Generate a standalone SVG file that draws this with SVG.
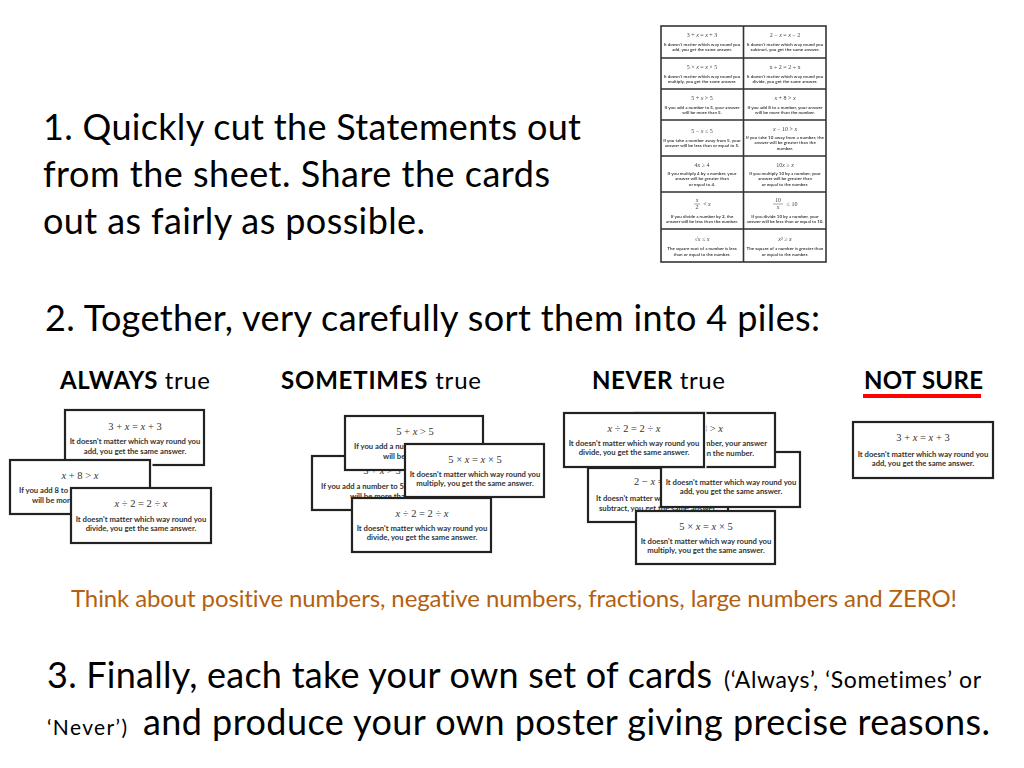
<svg xmlns="http://www.w3.org/2000/svg" width="1024" height="768" viewBox="0 0 1024 768">
<defs><filter id="soft" x="-2%" y="-2%" width="104%" height="104%"><feGaussianBlur stdDeviation="0.25"/></filter></defs>
<style>
text{font-variant-ligatures:none}
.h{font-family:Lato,Carlito,"Open Sans",sans-serif;fill:#000}
.h36{font-size:36px}
.lab{font-size:24px}
.b{font-weight:700}
.i{font-style:italic}
.card{fill:#fff;stroke:#222;stroke-width:2.2}
.eq{font-family:"Liberation Serif",serif;font-size:10.5px;fill:#333;text-anchor:middle}
.t{font-family:Lato,"Open Sans",sans-serif;font-weight:700;font-size:7.7px;fill:#333;text-anchor:middle}
.s{text-anchor:start}
.e{text-anchor:end}
.seq{font-family:"Liberation Serif",serif;font-size:6px;fill:#444;text-anchor:middle}
.st{font-family:Lato,"Open Sans",sans-serif;font-weight:700;font-size:4.5px;fill:#444;text-anchor:middle}
.grid{fill:none;stroke:#333;stroke-width:1.6}
</style>
<rect width="1024" height="768" fill="#fff"/>

<text class="h h36" x="43" y="140" textLength="538">1. Quickly cut the Statements out</text>
<text class="h h36" x="43" y="187" textLength="507">from the sheet. Share the cards</text>
<text class="h h36" x="43" y="234" textLength="382">out as fairly as possible.</text>
<text class="h h36" x="45" y="331" textLength="775">2. Together, very carefully sort them into 4 piles:</text>

<text class="h lab" x="60" y="389" textLength="150"><tspan class="b">ALWAYS</tspan> true</text>
<text class="h lab" x="281" y="389" textLength="200"><tspan class="b">SOMETIMES</tspan> true</text>
<text class="h lab" x="592" y="389" textLength="133"><tspan class="b">NEVER</tspan> true</text>
<text class="h lab b" x="864" y="389" textLength="119">NOT SURE</text>
<rect x="863" y="394" width="118" height="4" fill="#f00"/>

<g id="sheet" filter="url(#soft)">
<rect class="grid" x="661" y="26" width="165" height="236"/>
<path class="grid" d="M743.500 26V262M661 58H826M661 89H826M661 120H826M661 156H826M661 192H826M661 229H826"/>
<text class="seq" x="702" y="37">3 + <tspan class="i">x</tspan> = <tspan class="i">x</tspan> + 3</text>
<text class="st" x="702" y="46">It doesn't matter which way round you</text>
<text class="st" x="702" y="51">add, you get the same answer.</text>
<text class="seq" x="785" y="37">2 − <tspan class="i">x</tspan> = <tspan class="i">x</tspan> − 2</text>
<text class="st" x="785" y="46">It doesn't matter which way round you</text>
<text class="st" x="785" y="51">subtract, you get the same answer.</text>
<text class="seq" x="702" y="69">5 × <tspan class="i">x</tspan> = <tspan class="i">x</tspan> × 5</text>
<text class="st" x="702" y="78">It doesn't matter which way round you</text>
<text class="st" x="702" y="83">multiply, you get the same answer.</text>
<text class="seq" x="785" y="69">x ÷ 2 = 2 ÷ x</text>
<text class="st" x="785" y="78">It doesn't matter which way round you</text>
<text class="st" x="785" y="83">divide, you get the same answer.</text>
<text class="seq" x="702" y="100">5 + <tspan class="i">x</tspan> &gt; 5</text>
<text class="st" x="702" y="109">If you add a number to 5, your answer</text>
<text class="st" x="702" y="114">will be more than 5.</text>
<text class="seq" x="785" y="100"><tspan class="i">x</tspan> + 8 &gt; <tspan class="i">x</tspan></text>
<text class="st" x="785" y="109">If you add 8 to a number, your answer</text>
<text class="st" x="785" y="114">will be more than the number.</text>
<text class="seq" x="702" y="133">5 − <tspan class="i">x</tspan> ≤ 5</text>
<text class="st" x="702" y="142">If you take a number away from 5, your</text>
<text class="st" x="702" y="147">answer will be less than or equal to 5.</text>
<text class="seq" x="785" y="131"><tspan class="i">x</tspan> − 10 &gt; <tspan class="i">x</tspan></text>
<text class="st" x="785" y="139">If you take 10 away from a number, the</text>
<text class="st" x="785" y="144">answer will be greater than the</text>
<text class="st" x="785" y="150">number.</text>
<text class="seq" x="702" y="167">4<tspan class="i">x</tspan> ≥ 4</text>
<text class="st" x="702" y="175">If you multiply 4 by a number, your</text>
<text class="st" x="702" y="180">answer will be greater than</text>
<text class="st" x="702" y="186">or equal to 4.</text>
<text class="seq" x="785" y="167">10<tspan class="i">x</tspan> ≥ <tspan class="i">x</tspan></text>
<text class="st" x="785" y="175">If you multiply 10 by a number, your</text>
<text class="st" x="785" y="180">answer will be greater than</text>
<text class="st" x="785" y="186">or equal to the number.</text>
<text class="seq i" x="697" y="202">x</text>
<text class="seq" x="697" y="209">2</text>
<path d="M694 204H700M773 204H783" stroke="#444" stroke-width=".5"/>
<text class="seq" x="707" y="206">&lt; <tspan class="i">x</tspan></text>
<text class="st" x="702" y="218">If you divide a number by 2, the</text>
<text class="st" x="702" y="223">answer will be less than the number.</text>
<text class="seq" x="778" y="202">10</text>
<text class="seq i" x="778" y="209">x</text>
<text class="seq" x="792" y="206">≤ 10</text>
<text class="st" x="785" y="218">If you divide 10 by a number, your</text>
<text class="st" x="785" y="223">answer will be less than or equal to 10.</text>
<text class="seq" x="702" y="241">√<tspan class="i">x</tspan> ≤ <tspan class="i">x</tspan></text>
<text class="st" x="702" y="250">The square root of a number is less</text>
<text class="st" x="702" y="256">than or equal to the number.</text>
<text class="seq" x="785" y="241"><tspan class="i">x</tspan>² ≥ <tspan class="i">x</tspan></text>
<text class="st" x="785" y="250">The square of a number is greater than</text>
<text class="st" x="785" y="256">or equal to the number.</text>
</g>

<g id="always">
<g transform="translate(65 410)"><rect class="card" width="139" height="55"/><text class="eq" x="70" y="20">3 + <tspan class="i">x</tspan> = <tspan class="i">x</tspan> + 3</text><text class="t" x="70" y="34">It doesn't matter which way round you</text><text class="t" x="70" y="44">add, you get the same answer.</text></g>
<rect x="150" y="460" width="2.500" height="28" fill="#fff"/>
<g transform="translate(10 460)"><rect class="card" width="140" height="54"/><text class="eq" x="70" y="19"><tspan class="i">x</tspan> + 8 &gt; <tspan class="i">x</tspan></text><text class="t s" x="9" y="33">If you add 8 to a</text><text class="t s" x="22" y="43">will be more</text></g>
<g transform="translate(71 488)"><rect class="card" width="140" height="55"/><text class="eq" x="70" y="19"><tspan class="i">x</tspan> ÷ 2 = 2 ÷ <tspan class="i">x</tspan></text><text class="t" x="70" y="34">It doesn't matter which way round you</text><text class="t" x="70" y="43">divide, you get the same answer.</text></g>
</g>

<g id="sometimes">
<g transform="translate(312 456)"><rect class="card" width="140" height="54"/><text class="eq" x="70" y="18">5 + <tspan class="i">x</tspan> &gt; 5</text><text class="t s" x="9" y="33">If you add a number to 5,</text><text class="t s" x="38" y="43">will be more tha</text></g>
<g transform="translate(345 416)"><rect class="card" width="138" height="54"/><text class="eq" x="70" y="19">5 + <tspan class="i">x</tspan> &gt; 5</text><text class="t s" x="9" y="33">If you add a num</text><text class="t s" x="38" y="43">will be</text></g>
<g transform="translate(352 498)"><rect class="card" width="139" height="54"/><text class="eq" x="70" y="19"><tspan class="i">x</tspan> ÷ 2 = 2 ÷ <tspan class="i">x</tspan></text><text class="t" x="70" y="33">It doesn't matter which way round you</text><text class="t" x="70" y="42">divide, you get the same answer.</text></g>
<g transform="translate(405 444)"><rect class="card" width="139" height="53"/><text class="eq" x="70" y="19">5 × <tspan class="i">x</tspan> = <tspan class="i">x</tspan> × 5</text><text class="t" x="70" y="33">It doesn't matter which way round you</text><text class="t" x="70" y="42">multiply, you get the same answer.</text></g>
</g>

<g id="never">
<g transform="translate(588 468)"><rect class="card" width="140" height="54"/><text class="eq s" x="46" y="17">2 − <tspan class="i">x</tspan> =</text><text class="t s" x="8" y="33">It doesn't matter wh</text><text class="t" x="70" y="43">subtract, you get the same answer.</text></g>
<g transform="translate(661 452)"><rect class="card" width="139" height="55"/><text class="t" x="70" y="33">It doesn't matter which way round you</text><text class="t" x="70" y="42">add, you get the same answer.</text></g>
<g transform="translate(635 413)"><rect class="card" width="140" height="54"/><text class="eq e" x="88" y="19">8 &gt; <tspan class="i">x</tspan></text><text class="t e" x="132" y="33">mber, your answer</text><text class="t e" x="119" y="43">an the number.</text></g>
<rect x="704" y="412" width="2.500" height="56" fill="#fff"/>
<g transform="translate(564 413)"><rect class="card" width="140" height="54"/><text class="eq" x="70" y="19"><tspan class="i">x</tspan> ÷ 2 = 2 ÷ <tspan class="i">x</tspan></text><text class="t" x="70" y="33">It doesn't matter which way round you</text><text class="t" x="70" y="42">divide, you get the same answer.</text></g>
<g transform="translate(636 511)"><rect class="card" width="139" height="53"/><text class="eq" x="70" y="19">5 × <tspan class="i">x</tspan> = <tspan class="i">x</tspan> × 5</text><text class="t" x="70" y="33">It doesn't matter which way round you</text><text class="t" x="70" y="42">multiply, you get the same answer.</text></g>
</g>

<g id="notsure">
<g transform="translate(853 422)"><rect class="card" width="140" height="56"/><text class="eq" x="70" y="19">3 + <tspan class="i">x</tspan> = <tspan class="i">x</tspan> + 3</text><text class="t" x="70" y="35">It doesn't matter which way round you</text><text class="t" x="70" y="44">add, you get the same answer.</text></g>
</g>

<text class="h" x="71" y="607" font-size="24" style="fill:#b4610f" textLength="886">Think about positive numbers, negative numbers, fractions, large numbers and ZERO!</text>

<text class="h h36" x="47" y="688" textLength="665">3. Finally, each take your own set of cards</text>
<text class="h" x="724" y="688" font-size="23" textLength="257">(‘Always’, ‘Sometimes’ or</text>
<text class="h" x="47" y="735" font-size="21" textLength="80">‘Never’)</text>
<text class="h h36" x="143" y="735" textLength="847">and produce your own poster giving precise reasons.</text>
</svg>
